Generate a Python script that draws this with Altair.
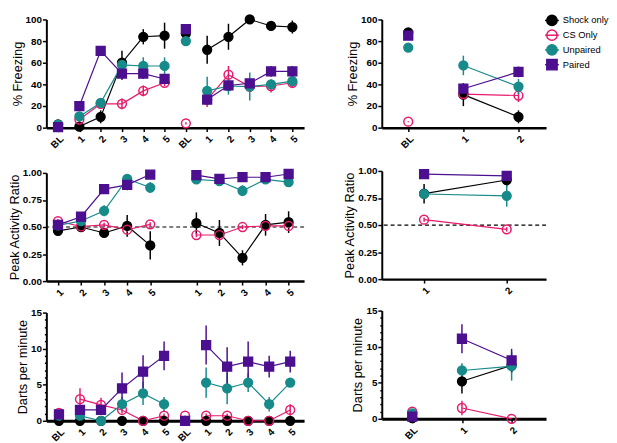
import json
import altair as alt
import pandas as pd

GROUPS = ["Shock only", "CS Only", "Unpaired", "Paired"]
STROKES = ["#000000", "#E8196B", "#178A8A", "#4B0F8F"]
FILLS = ["#000000", "transparent", "#178A8A", "#4B0F8F"]
SHAPES = ["circle", "circle", "circle", "square"]

TRIAL_LABELS = ["BL", "1", "2", "3", "4", "5", "BL", "1", "2", "3", "4", "5"]
TRIAL_POS = [0, 1, 2, 3, 4, 5, 6, 7, 8, 9, 10, 11]
TRIAL_SEG = ["a", "b", "b", "b", "b", "b", "c", "d", "d", "d", "d", "d"]
RATIO_POS = [1, 2, 3, 4, 5, 7, 8, 9, 10, 11]
RATIO_SEG = ["b", "b", "b", "b", "b", "d", "d", "d", "d", "d"]
TEST_LABELS = ["BL", "1", "2"]
TEST_POS = [0, 1, 2]
TEST_SEG = ["a", "b", "b"]
TEST_RATIO_POS = [1, 2]
TEST_RATIO_SEG = ["b", "b"]
CHANCE = 0.5

# % Freezing, training sessions
FRZ_SHOCK = [3, 1, 10, 60, 84, 85, 87, 72, 84, 100, 94, 93]
FRZ_SHOCK_ERR = [1, 1, 6, 11, 7, 12, 3, 13, 12, 0.5, 2, 6]
FRZ_CS = [1, 7.5, 22, 22, 34, 41.5, 4, 26, 49, 38, 38.5, 41.5]
FRZ_CS_ERR = [1, 2, 3, 5, 5, 3, 1, 7, 8, 4, 6, 5]
FRZ_UNP = [2.7, 10.4, 23, 58, 57, 57, 80, 34, 38.5, 38, 40, 43]
FRZ_UNP_ERR = [1, 2, 3, 3, 8, 8, 3, 13, 8, 13, 3, 3]
FRZ_PAIR = [0.6, 20, 71, 50, 50, 45, 91, 26, 39, 41, 52, 52]
FRZ_PAIR_ERR = [0.5, 3, 3, 6, 5, 3, 2, 5, 4, 4, 5, 5]

# Peak activity ratio, training sessions
PAR_SHOCK = [0.465, 0.50, 0.445, 0.51, 0.33, 0.535, 0.445, 0.215, 0.52, 0.545]
PAR_SHOCK_ERR = [0.03, 0.03, 0.03, 0.10, 0.13, 0.10, 0.12, 0.07, 0.10, 0.10]
PAR_CS = [0.555, 0.505, 0.52, 0.475, 0.525, 0.426, 0.426, 0.50, 0.51, 0.51]
PAR_CS_ERR = [0.02, 0.02, 0.02, 0.02, 0.02, 0.02, 0.02, 0.02, 0.02, 0.02]
PAR_UNP = [0.515, 0.555, 0.65, 0.945, 0.865, 0.94, 0.925, 0.835, 0.94, 0.915]
PAR_UNP_ERR = [0.02, 0.02, 0.05, 0.03, 0.05, 0.02, 0.02, 0.05, 0.03, 0.03]
PAR_PAIR = [0.52, 0.595, 0.85, 0.89, 0.985, 0.98, 0.945, 0.96, 0.96, 0.99]
PAR_PAIR_ERR = [0.02, 0.03, 0.03, 0.05, 0.02, 0.02, 0.02, 0.02, 0.02, 0.02]

# Darts per minute, training sessions
DRT_SHOCK = [0, 0, 0, 0, 0, 0, 0, 0, 0, 0, 0, 0]
DRT_SHOCK_ERR = [0, 0, 0, 0, 0, 0, 0, 0, 0, 0, 0, 0]
DRT_CS = [1.1, 3.0, 2.2, 1.5, 0, 0.7, 0.7, 0.7, 0.7, 0, 0, 1.5]
DRT_CS_ERR = [0.2, 1.5, 1.0, 0.5, 0, 0.3, 0, 0.3, 0.3, 0, 0, 0.8]
DRT_UNP = [0.7, 0.7, 0, 2.3, 3.8, 2.3, 0, 5.3, 4.5, 5.3, 2.3, 5.3]
DRT_UNP_ERR = [0.2, 0.3, 0, 1.0, 1.6, 1.0, 0, 2.1, 2.2, 1.3, 1.0, 0.4]
DRT_PAIR = [0.9, 1.5, 1.5, 4.5, 6.8, 9.0, 0, 10.5, 7.5, 8.2, 7.5, 8.2]
DRT_PAIR_ERR = [0.3, 0.5, 0.5, 2.2, 2.3, 2.0, 0, 2.7, 2.7, 2.8, 1.5, 1.5]

# Test session
T_FRZ_SHOCK = [88, 30.5, 10]
T_FRZ_SHOCK_ERR = [2, 10.6, 6]
T_FRZ_CS = [5.5, 31, 29.7]
T_FRZ_CS_ERR = [0.5, 2, 6]
T_FRZ_UNP = [74, 57.5, 38]
T_FRZ_UNP_ERR = [4, 9, 7]
T_FRZ_PAIR = [85, 36, 51.5]
T_FRZ_PAIR_ERR = [2, 3, 5]

T_PAR_SHOCK = [0.79, 0.916]
T_PAR_SHOCK_ERR = [0.09, 0.06]
T_PAR_CS = [0.55, 0.46]
T_PAR_CS_ERR = [0.02, 0.02]
T_PAR_UNP = [0.787, 0.77]
T_PAR_UNP_ERR = [0.03, 0.10]
T_PAR_PAIR = [0.97, 0.955]
T_PAR_PAIR_ERR = [0.01, 0.02]

T_DRT_SHOCK = [0.1, 5.2, 7.4]
T_DRT_SHOCK_ERR = [0, 1.7, 1.0]
T_DRT_CS = [1.0, 1.5, 0]
T_DRT_CS_ERR = [0.2, 1.0, 0]
T_DRT_UNP = [0.75, 6.7, 7.3]
T_DRT_UNP_ERR = [0.2, 1.0, 2.0]
T_DRT_PAIR = [0.3, 11.1, 8.1]
T_DRT_PAIR_ERR = [0.2, 2.0, 1.6]


def frame(pos, seg, series):
    rows = []
    for g, (means, errs) in zip(GROUPS, series):
        for p, s, m, e in zip(pos, seg, means, errs):
            rows.append({"pos": p, "seg": s, "group": g, "mean": m,
                         "lo": m - e, "hi": m + e})
    return pd.DataFrame(rows)


STROKE_SCALE = alt.Scale(domain=GROUPS, range=STROKES)
FILL_SCALE = alt.Scale(domain=GROUPS, range=FILLS)
SHAPE_SCALE = alt.Scale(domain=GROUPS, range=SHAPES)


def stroke_enc():
    return alt.Stroke("group:N", scale=STROKE_SCALE, legend=None)


def fill_enc():
    return alt.Fill("group:N", scale=FILL_SCALE, legend=None)


def shape_enc():
    return alt.Shape("group:N", scale=SHAPE_SCALE, legend=None)


def legend_layers():
    ldf = pd.DataFrame({"group": GROUPS, "rank": list(range(len(GROUPS)))})
    ly = alt.Y("rank:Q",
               scale=alt.Scale(domain=[0, len(GROUPS) - 1], range=[1, 46],
                               nice=False, zero=False),
               axis=None)
    base = alt.Chart(ldf)
    rule = base.mark_rule(strokeWidth=1.5).encode(
        x=alt.value(166), x2=alt.value(180), y=ly, stroke=stroke_enc())
    pts = base.mark_point(size=110, opacity=1, fillOpacity=1,
                          strokeWidth=1.5).encode(
        x=alt.value(173), y=ly, stroke=stroke_enc(), fill=fill_enc(),
        shape=shape_enc())
    txt = base.mark_text(align="left", baseline="middle", fontSize=9.5,
                         font="Liberation Sans", color="#000000").encode(
        x=alt.value(184), y=ly, text="group:N")
    return alt.layer(rule, pts, txt)


def panel(df, xdom, xvals, xlabels, ydom, yvals, ytitle, w, h,
          yfmt=None, minor=False, chance=False, legend=False, xdw=2.5):
    xaxis = alt.Axis(values=xvals,
                     labelExpr=json.dumps(xlabels) + "[round(datum.value)]",
                     title=None, grid=False, labelAngle=315, tickSize=4,
                     tickWidth=1.5, domainWidth=xdw, labelPadding=2)
    yargs = dict(values=yvals, title=ytitle, grid=False, tickSize=4,
                 tickWidth=1.5, domainWidth=2, labelPadding=1,
                 titlePadding=1)
    if yfmt:
        yargs["format"] = yfmt
    if minor:
        yargs["labelExpr"] = "datum.value % 5 === 0 ? datum.label : ''"
        yargs["tickSize"] = {"condition": {"test": "datum.value % 5 !== 0",
                                           "value": 2}, "value": 4}
    yaxis = alt.Axis(**yargs)
    xs = alt.Scale(domain=xdom, nice=False, zero=False)
    ys = alt.Scale(domain=ydom, nice=False, zero=False)
    x = alt.X("pos:Q", scale=xs, axis=xaxis)

    base = alt.Chart(df)
    eb = base.mark_rule(strokeWidth=1.5).encode(
        x=x, y=alt.Y("lo:Q", scale=ys, axis=yaxis), y2="hi:Q",
        stroke=stroke_enc())
    ln = base.mark_line(strokeWidth=1.2).encode(
        x=x, y=alt.Y("mean:Q", scale=ys, axis=yaxis), stroke=stroke_enc(),
        detail="seg:N")
    pt = base.mark_point(size=80, opacity=1, fillOpacity=1,
                         strokeWidth=1.5).encode(
        x=x, y=alt.Y("mean:Q", scale=ys, axis=yaxis),
        stroke=stroke_enc(), fill=fill_enc(), shape=shape_enc())
    layers = [eb, ln, pt]
    if chance:
        rule = alt.Chart(pd.DataFrame({"c": [CHANCE]})).mark_rule(
            strokeDash=[4, 3], strokeWidth=1.2, color="#000000").encode(
            y=alt.Y("c:Q", scale=ys, axis=yaxis))
        layers = [rule] + layers
    main = alt.layer(*layers)
    if legend:
        main = alt.layer(main, legend_layers()).resolve_scale(y="independent")
    return main.properties(width=w, height=h)


df_frz = frame(TRIAL_POS, TRIAL_SEG, [(FRZ_SHOCK, FRZ_SHOCK_ERR),
                                      (FRZ_CS, FRZ_CS_ERR),
                                      (FRZ_UNP, FRZ_UNP_ERR),
                                      (FRZ_PAIR, FRZ_PAIR_ERR)])
df_par = frame(RATIO_POS, RATIO_SEG, [(PAR_SHOCK, PAR_SHOCK_ERR),
                                      (PAR_CS, PAR_CS_ERR),
                                      (PAR_UNP, PAR_UNP_ERR),
                                      (PAR_PAIR, PAR_PAIR_ERR)])
df_drt = frame(TRIAL_POS, TRIAL_SEG, [(DRT_SHOCK, DRT_SHOCK_ERR),
                                      (DRT_CS, DRT_CS_ERR),
                                      (DRT_UNP, DRT_UNP_ERR),
                                      (DRT_PAIR, DRT_PAIR_ERR)])
dt_frz = frame(TEST_POS, TEST_SEG, [(T_FRZ_SHOCK, T_FRZ_SHOCK_ERR),
                                    (T_FRZ_CS, T_FRZ_CS_ERR),
                                    (T_FRZ_UNP, T_FRZ_UNP_ERR),
                                    (T_FRZ_PAIR, T_FRZ_PAIR_ERR)])
dt_par = frame(TEST_RATIO_POS, TEST_RATIO_SEG, [(T_PAR_SHOCK, T_PAR_SHOCK_ERR),
                                                (T_PAR_CS, T_PAR_CS_ERR),
                                                (T_PAR_UNP, T_PAR_UNP_ERR),
                                                (T_PAR_PAIR, T_PAR_PAIR_ERR)])
dt_drt = frame(TEST_POS, TEST_SEG, [(T_DRT_SHOCK, T_DRT_SHOCK_ERR),
                                    (T_DRT_CS, T_DRT_CS_ERR),
                                    (T_DRT_UNP, T_DRT_UNP_ERR),
                                    (T_DRT_PAIR, T_DRT_PAIR_ERR)])

FRZ_TICKS = [0, 20, 40, 60, 80, 100]
PAR_TICKS = [0, 0.25, 0.5, 0.75, 1.0]
DRT_TICKS = list(range(16))

LW, RW, H = 262, 167, 110

left_top = panel(df_frz, [-0.55, 11.55], TRIAL_POS, TRIAL_LABELS, [0, 100],
                 FRZ_TICKS, "% Freezing", LW, H)
left_mid = panel(df_par, [0.496, 11.67], RATIO_POS, TRIAL_LABELS, [0, 1],
                 PAR_TICKS, "Peak Activity Ratio", LW, H, yfmt=".2f",
                 chance=True)
left_bot = panel(df_drt, [-0.6, 11.66], TRIAL_POS, TRIAL_LABELS, [0, 15],
                 DRT_TICKS, "Darts per minute", LW, H, minor=True, xdw=3)

right_top = panel(dt_frz, [-0.48, 2.5], TEST_POS, TEST_LABELS, [0, 100],
                  FRZ_TICKS, "% Freezing", RW, H, legend=True)
right_mid = panel(dt_par, [0.488, 2.476], TEST_RATIO_POS, TEST_LABELS, [0, 1],
                  PAR_TICKS, "Peak Activity Ratio", RW, H, yfmt=".2f",
                  chance=True)
right_bot = panel(dt_drt, [-0.614, 2.693], TEST_POS, TEST_LABELS, [0, 15],
                  DRT_TICKS, "Darts per minute", RW, H, minor=True, xdw=3)

left_col = alt.vconcat(alt.vconcat(left_top, left_mid, spacing=16), left_bot,
                       spacing=9)
right_col = alt.vconcat(alt.vconcat(right_top, right_mid, spacing=16),
                        right_bot, spacing=9)

chart = alt.hconcat(left_col, right_col, spacing=39).properties(
    padding=0
).configure_view(strokeWidth=0).configure_axis(
    labelFont="Liberation Sans", labelFontWeight="bold", labelFontSize=10,
    labelColor="#000000", titleFont="Liberation Sans",
    titleFontWeight="normal", titleFontSize=13, titleColor="#000000",
    domainColor="#000000", tickColor="#000000"
)

chart.save("out.html", embed_options={"renderer": "svg", "actions": False})
